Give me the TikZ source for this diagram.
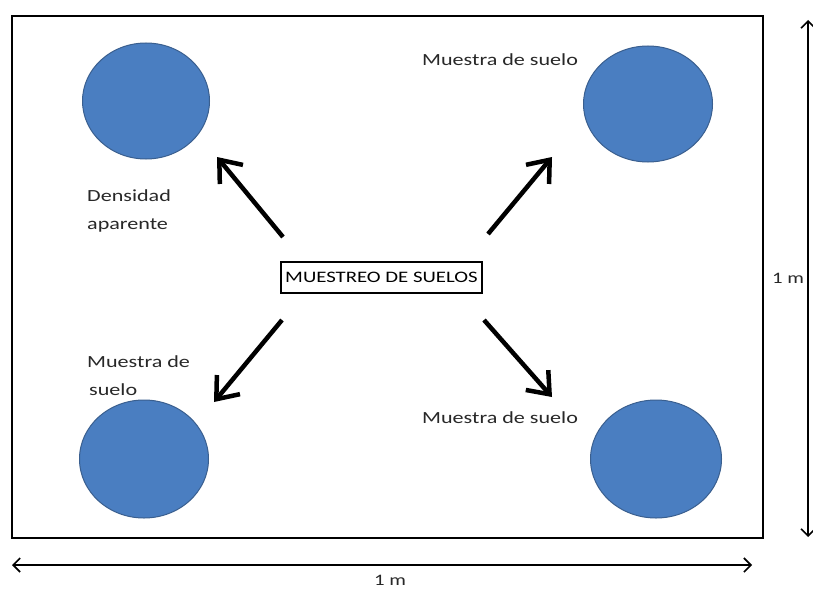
\documentclass[tikz,border=0pt]{standalone}
\usepackage{fontspec}
\setmainfont{Carlito}[FakeStretch=1.3]
\usetikzlibrary{arrows.meta,shapes.geometric}
\definecolor{circfill}{RGB}{74,126,193}
\definecolor{circline}{RGB}{58,95,143}
\definecolor{labgray}{RGB}{40,40,40}
\tikzset{
  sample/.style={ellipse, inner sep=0pt, fill=circfill, draw=circline, line width=1pt},
  lab/.style={inner sep=0pt, text=labgray, align=left, font=\fontsize{17}{28.5}\selectfont},
  bigarrow/.style={line width=4.5pt, -{Straight Barb[length=19pt,width=30pt]}},
  dimarrow/.style={line width=1.6pt, {Straight Barb[length=7pt,width=14pt]}-{Straight Barb[length=7pt,width=14pt]}},
  mainbox/.style={draw, line width=1.5pt, inner sep=0pt, minimum width=201pt, minimum height=31pt, font=\fontsize{16}{18}\selectfont},
  dimlab/.style={inner sep=0pt, text=labgray, font=\fontsize{16}{19}\selectfont}
}
\begin{document}
\begin{tikzpicture}[x=1pt,y=-1pt]
\useasboundingbox[fill=white] (0,0) rectangle (813,591);
% plot outline
\node[draw, line width=2pt, inner sep=0pt, minimum width=751pt, minimum height=522pt] (plot) at (387.5,277) {};
% samples
\node[sample, minimum width=127pt, minimum height=116pt] (ctl) at (146,101) {};
\node[sample, minimum width=129pt, minimum height=116pt] (ctr) at (648,104) {};
\node[sample, minimum width=129pt, minimum height=118pt] (cbl) at (144,459) {};
\node[sample, minimum width=131pt, minimum height=118pt] (cbr) at (656,459) {};
% labels
\node[lab, anchor=north west] (ldens) at (87,189) {Densidad\\aparente};
\node[lab, anchor=base west] (ltr) at (422,66) {Muestra de suelo};
\node[lab, anchor=north west] (lbl) at (87,355) {Muestra de\\\hspace*{2pt}suelo};
\node[lab, anchor=base west] (lbr) at (422,423) {Muestra de suelo};
% central box
\node[mainbox] (center) at (381.5,277.5) {MUESTREO DE SUELOS};
% arrows
\coordinate (atl0) at (283,237); \coordinate (atl1) at (217,157);
\coordinate (atr0) at (488,234); \coordinate (atr1) at (552,157);
\coordinate (abl0) at (282,320); \coordinate (abl1) at (214,402);
\coordinate (abr0) at (484,320); \coordinate (abr1) at (552,397);
\draw[bigarrow] (atl0) -- (atl1);
\draw[bigarrow] (atr0) -- (atr1);
\draw[bigarrow] (abl0) -- (abl1);
\draw[bigarrow] (abr0) -- (abr1);
% dimensions
\coordinate (hl) at (12,565); \coordinate (hr) at (752,565);
\draw[dimarrow] (hl) -- (hr);
\node[dimlab] (hlab) at (390,580) {1 m};
\coordinate (vt) at (808,20); \coordinate (vb) at (808,537);
\draw[dimarrow] (vt) -- (vb);
\node[dimlab] (vlab) at (788,278) {1 m};
\end{tikzpicture}
\end{document}
